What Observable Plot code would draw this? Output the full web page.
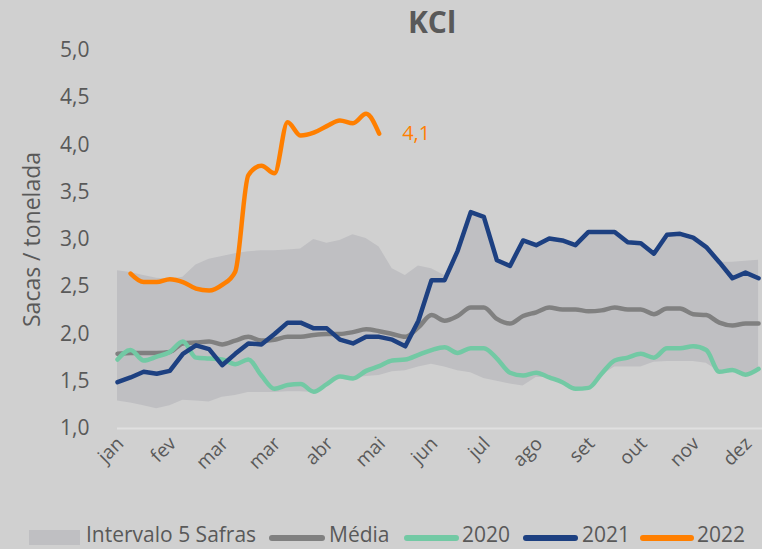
<!DOCTYPE html>
<html>
<head>
<meta charset="utf-8">
<script src="https://cdn.jsdelivr.net/npm/d3@7"></script>
<script src="https://cdn.jsdelivr.net/npm/@observablehq/plot@0.6"></script>
<style>
  html, body { margin: 0; padding: 0; background: #d0d0d0; }
  #wrap { position: relative; width: 762px; height: 549px; background: #d0d0d0; font-family: "Open Sans", sans-serif; color: #595959; }
  #title { position: absolute; left: 0; top: 1px; width: 762px; text-align: center; font-size: 30px; line-height: normal; font-weight: 700; color: #595959; }
  #title span { position: relative; left: 51px; }
  #chart { position: absolute; left: 0; top: 30px; }
  #legend { position: absolute; left: 0; top: 520px; width: 762px; height: 29px; font-size: 21px; line-height: normal; }
  .sw { position: absolute; }
  .lt { position: absolute; top: 0; white-space: nowrap; }
</style>
</head>
<body>
<div id="wrap">
  <div id="title"><span>KCl</span></div>
  <div id="chart"></div>
  <div id="legend"></div>
</div>
<script>
// Month tick labels (one every 4 weeks)
const months = ["jan","fev","mar","mar","abr","mai","jun","jul","ago","set","out","nov","dez"];
const yTicks = [1.0,1.5,2.0,2.5,3.0,3.5,4.0,4.5,5.0];

// Weekly series (week 0 .. 49)
const bandLow = [1.29,1.27,1.24,1.21,1.24,1.30,1.29,1.28,1.33,1.35,
                 1.38,1.38,1.38,1.39,1.39,1.38,1.46,1.54,1.53,1.55,
                 1.56,1.60,1.61,1.65,1.68,1.65,1.61,1.59,1.53,1.50,
                 1.47,1.45,1.54,1.54,1.49,1.42,1.43,1.56,1.65,1.65,
                 1.65,1.70,1.71,1.71,1.71,1.69,1.60,1.62,1.57,1.61];
const bandHigh = [2.67,2.65,2.62,2.59,2.58,2.60,2.73,2.79,2.82,2.85,
                  2.87,2.88,2.88,2.89,2.90,3.00,2.96,2.99,3.05,3.01,
                  2.92,2.69,2.62,2.72,2.69,2.62,2.88,3.29,3.24,2.78,
                  2.72,2.99,2.94,3.01,2.99,2.94,3.08,3.08,3.08,2.97,
                  2.96,2.85,3.05,3.06,3.02,2.92,2.76,2.76,2.77,2.78];
const media = [1.79,1.80,1.80,1.80,1.81,1.90,1.91,1.92,1.89,1.93,
               1.97,1.93,1.94,1.97,1.97,1.99,2.00,2.00,2.02,2.05,
               2.03,2.00,1.97,2.07,2.20,2.14,2.19,2.28,2.28,2.16,
               2.11,2.19,2.23,2.28,2.26,2.26,2.24,2.25,2.28,2.26,
               2.26,2.21,2.27,2.27,2.21,2.20,2.12,2.09,2.11,2.11];
const s2020 = [1.73,1.83,1.72,1.76,1.81,1.92,1.75,1.74,1.73,1.68,
               1.73,1.56,1.42,1.46,1.47,1.39,1.47,1.55,1.53,1.61,
               1.66,1.72,1.73,1.78,1.83,1.86,1.80,1.85,1.85,1.74,
               1.59,1.56,1.59,1.54,1.49,1.42,1.43,1.58,1.72,1.75,
               1.79,1.75,1.85,1.85,1.87,1.83,1.60,1.62,1.57,1.63];
const s2021 = [1.49,1.54,1.60,1.58,1.61,1.79,1.88,1.84,1.67,1.79,
               1.90,1.89,2.00,2.12,2.12,2.06,2.06,1.94,1.90,1.97,
               1.97,1.94,1.87,2.14,2.57,2.57,2.88,3.29,3.24,2.78,
               2.72,2.99,2.94,3.01,2.99,2.94,3.08,3.08,3.08,2.97,
               2.96,2.85,3.05,3.06,3.02,2.92,2.76,2.59,2.65,2.59];
const s2022 = [null,2.64,2.55,2.55,2.58,2.55,2.48,2.46,2.52,2.66,
               3.68,3.78,3.70,4.24,4.10,4.13,4.20,4.26,4.23,4.33,
               4.12];

const colors = { band: "#bfbfc2", media: "#808080", y2020: "#72c9a4", y2021: "#1d4081", y2022: "#ff7f00" };

const data = d3.range(bandLow.length).map(i => ({
  i, low: bandLow[i], high: bandHigh[i], media: media[i],
  y2020: s2020[i], y2021: s2021[i], y2022: i < s2022.length ? s2022[i] : null
}));
const last2022 = data.filter(d => d.y2022 != null).at(-1);
const fmt = v => v.toFixed(1).replace(".", ",");

const chart = Plot.plot({
  width: 762,
  height: 490,
  marginLeft: 117,
  marginRight: 0,
  marginTop: 20,
  marginBottom: 92,
  style: { background: "transparent", fontFamily: "Open Sans, sans-serif", fontSize: "20px", color: "#595959", overflow: "visible" },
  x: { domain: [0, 49.3], axis: null },
  y: { domain: [1, 5], axis: null },
  marks: [
    Plot.areaY(data, { x: "i", y1: "low", y2: "high", fill: colors.band }),
    Plot.ruleY([1], { stroke: "#e0e0e0", strokeWidth: 2 }),
    Plot.line(data, { x: "i", y: "media", stroke: colors.media, strokeWidth: 4.5, curve: "monotone-x" }),
    Plot.line(data, { x: "i", y: "y2020", stroke: colors.y2020, strokeWidth: 4.5, curve: "monotone-x" }),
    Plot.line(data, { x: "i", y: "y2021", stroke: colors.y2021, strokeWidth: 4.5, strokeLinejoin: "round" }),
    Plot.line(data, { x: "i", y: "y2022", stroke: colors.y2022, strokeWidth: 4.5, curve: "monotone-x", strokeLinecap: "round" }),
    Plot.axisY({ ticks: yTicks, tickSize: 0, tickPadding: 28, tickFormat: fmt, label: null, fill: "#595959", fontSize: 21 }),
    Plot.axisX({ ticks: d3.range(0, 49, 4), tickSize: 0, tickPadding: 6, tickRotate: -45, dx: 3, dy: 6, tickFormat: i => months[i / 4], label: null, fill: "#595959", fontSize: 19 }),
    Plot.text(["Sacas / tonelada"], { frameAnchor: "left", textAnchor: "middle", rotate: -90, dx: -85, fontSize: 23, fill: "#595959" }),
    Plot.text([last2022], { x: "i", y: "y2022", text: d => fmt(d.y2022), dx: 23, textAnchor: "start", fill: colors.y2022, fontSize: 20 })
  ]
});
document.getElementById("chart").appendChild(chart);

// Legend below the chart
const legendItems = [
  { type: "rect", color: colors.band, x: 29, w: 51, label: "Intervalo 5 Safras", lx: 86 },
  { type: "line", color: colors.media, x: 269, w: 56, label: "Média", lx: 329 },
  { type: "line", color: colors.y2020, x: 404, w: 55, label: "2020", lx: 462 },
  { type: "line", color: colors.y2021, x: 523, w: 55, label: "2021", lx: 582 },
  { type: "line", color: colors.y2022, x: 640, w: 54, label: "2022", lx: 697 }
];
const legend = document.getElementById("legend");
for (const it of legendItems) {
  const sw = document.createElement("div");
  sw.className = "sw";
  sw.style.left = it.x + "px";
  sw.style.width = it.w + "px";
  sw.style.background = it.color;
  if (it.type === "rect") { sw.style.top = "10px"; sw.style.height = "15px"; }
  else { sw.style.top = "15px"; sw.style.height = "6px"; sw.style.borderRadius = "3px"; }
  legend.appendChild(sw);
  const t = document.createElement("div");
  t.className = "lt";
  t.style.left = it.lx + "px";
  t.textContent = it.label;
  legend.appendChild(t);
}
</script>
</body>
</html>
